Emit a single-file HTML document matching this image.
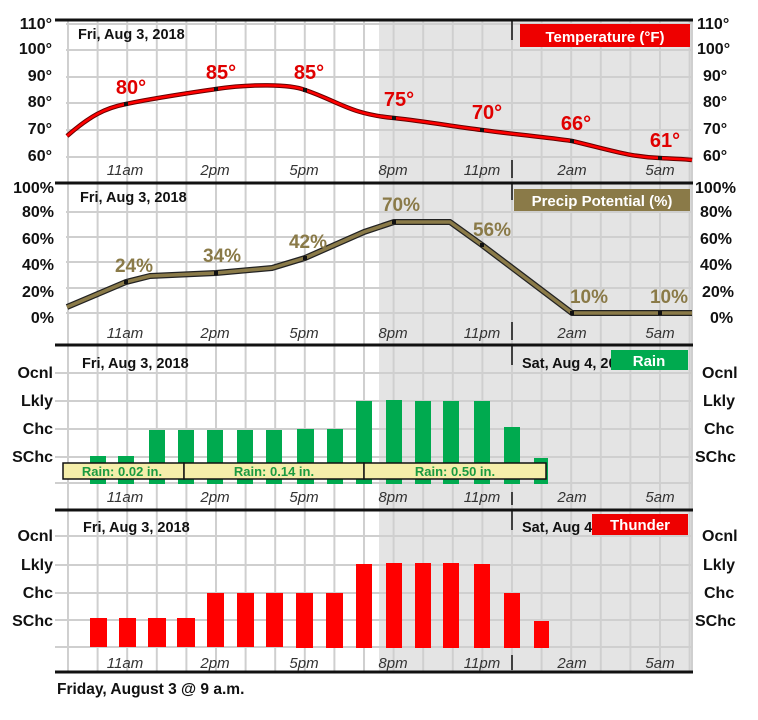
<!DOCTYPE html>
<html><head><meta charset="utf-8"><style>
html,body{margin:0;padding:0;background:#fff}
svg{display:block;font-family:"Liberation Sans",Arial,sans-serif}
.ax{font-size:16px;font-weight:bold;fill:#111}
.tm{font-size:15px;font-style:italic;fill:#333}
.dt{font-size:14.5px;font-weight:bold;fill:#111}
</style></head><body>
<svg width="758" height="720" viewBox="0 0 758 720" xmlns="http://www.w3.org/2000/svg">
<defs>
<pattern id="gv" x="67" y="0" width="29.6" height="720" patternUnits="userSpaceOnUse">
<line x1="1" y1="0" x2="1" y2="720" stroke="#cfcfcf" stroke-width="2"/>
</pattern>
</defs>
<rect x="379" y="20" width="313" height="652" fill="#e4e4e4"/>
<rect x="66" y="20" width="627" height="652" fill="url(#gv)"/>
<g stroke="#cfcfcf" stroke-width="2">
<line x1="66" y1="24" x2="692" y2="24"/><line x1="66" y1="50" x2="692" y2="50"/><line x1="66" y1="77" x2="692" y2="77"/><line x1="66" y1="103" x2="692" y2="103"/><line x1="66" y1="130" x2="692" y2="130"/><line x1="66" y1="157" x2="692" y2="157"/>
<line x1="66" y1="212" x2="692" y2="212"/><line x1="66" y1="237" x2="692" y2="237"/><line x1="66" y1="262" x2="692" y2="262"/><line x1="66" y1="288" x2="692" y2="288"/><line x1="66" y1="313" x2="692" y2="313"/>
<line x1="55" y1="373" x2="692" y2="373"/><line x1="55" y1="401" x2="692" y2="401"/><line x1="55" y1="429" x2="692" y2="429"/><line x1="55" y1="457" x2="692" y2="457"/><line x1="55" y1="483" x2="692" y2="483"/>
<line x1="55" y1="536" x2="692" y2="536"/><line x1="55" y1="565" x2="692" y2="565"/><line x1="55" y1="593" x2="692" y2="593"/><line x1="55" y1="620" x2="692" y2="620"/><line x1="55" y1="647" x2="692" y2="647"/>
<line x1="692" y1="20" x2="692" y2="672"/>
</g>
<g stroke="#111" stroke-width="3">
<line x1="55" y1="20" x2="693" y2="20"/>
<line x1="55" y1="183" x2="693" y2="183"/>
<line x1="55" y1="345" x2="693" y2="345"/>
<line x1="55" y1="510" x2="693" y2="510"/>
<line x1="55" y1="672" x2="693" y2="672"/>
</g>
<g stroke="#111" stroke-width="1.5">
<line x1="512" y1="20" x2="512" y2="40"/><line x1="512" y1="160" x2="512" y2="178"/>
<line x1="512" y1="183" x2="512" y2="200"/><line x1="512" y1="322" x2="512" y2="340"/>
<line x1="512" y1="345" x2="512" y2="365"/><line x1="512" y1="492" x2="512" y2="505"/>
<line x1="512" y1="510" x2="512" y2="530"/><line x1="512" y1="655" x2="512" y2="670"/>
</g>

<g class="ax" text-anchor="end">
<text x="52" y="29">110°</text><text x="52" y="54">100°</text><text x="52" y="81">90°</text><text x="52" y="107">80°</text><text x="52" y="134">70°</text><text x="52" y="161">60°</text>
<text x="54" y="193">100%</text><text x="54" y="217">80%</text><text x="54" y="244">60%</text><text x="54" y="270">40%</text><text x="54" y="297">20%</text><text x="54" y="323">0%</text>
<text x="53" y="378">Ocnl</text><text x="53" y="406">Lkly</text><text x="53" y="434">Chc</text><text x="53" y="462">SChc</text>
<text x="53" y="541">Ocnl</text><text x="53" y="570">Lkly</text><text x="53" y="598">Chc</text><text x="53" y="626">SChc</text>
</g>
<g class="ax" text-anchor="start">
<text x="697" y="29">110°</text><text x="697" y="54">100°</text><text x="703" y="81">90°</text><text x="703" y="107">80°</text><text x="703" y="134">70°</text><text x="703" y="161">60°</text>
<text x="695" y="193">100%</text><text x="700" y="217">80%</text><text x="700" y="244">60%</text><text x="700" y="270">40%</text><text x="702" y="297">20%</text><text x="710" y="323">0%</text>
<text x="702" y="378">Ocnl</text><text x="703" y="406">Lkly</text><text x="704" y="434">Chc</text><text x="695" y="462">SChc</text>
<text x="702" y="541">Ocnl</text><text x="703" y="570">Lkly</text><text x="704" y="598">Chc</text><text x="695" y="626">SChc</text>
</g>

<g class="tm" text-anchor="middle">
<g transform="translate(0,175)"><text x="125">11am</text><text x="215">2pm</text><text x="304">5pm</text><text x="393">8pm</text><text x="482">11pm</text><text x="572">2am</text><text x="660">5am</text></g>
<g transform="translate(0,338)"><text x="125">11am</text><text x="215">2pm</text><text x="304">5pm</text><text x="393">8pm</text><text x="482">11pm</text><text x="572">2am</text><text x="660">5am</text></g>
<g transform="translate(0,502)"><text x="125">11am</text><text x="215">2pm</text><text x="304">5pm</text><text x="393">8pm</text><text x="482">11pm</text><text x="572">2am</text><text x="660">5am</text></g>
<g transform="translate(0,668)"><text x="125">11am</text><text x="215">2pm</text><text x="304">5pm</text><text x="393">8pm</text><text x="482">11pm</text><text x="572">2am</text><text x="660">5am</text></g>
</g>

<text class="dt" x="78" y="39">Fri, Aug 3, 2018</text>
<text class="dt" x="80" y="202">Fri, Aug 3, 2018</text>
<text class="dt" x="82" y="368">Fri, Aug 3, 2018</text>
<text class="dt" x="83" y="532">Fri, Aug 3, 2018</text>
<text class="dt" x="522" y="368">Sat, Aug 4, 2018</text>
<text class="dt" x="522" y="532">Sat, Aug 4, 2018</text>

<rect x="520" y="24" width="170" height="23" fill="#ee0000"/>
<text x="605" y="42" text-anchor="middle" font-size="15" font-weight="bold" fill="#fff">Temperature  (°F)</text>
<rect x="514" y="189" width="176" height="22" fill="#8a7a48"/>
<text x="602" y="206" text-anchor="middle" font-size="15" font-weight="bold" fill="#fff">Precip  Potential  (%)</text>
<rect x="611" y="350" width="77" height="20" fill="#00aa4f"/>
<text x="649" y="366" text-anchor="middle" font-size="15" font-weight="bold" fill="#fff">Rain</text>
<rect x="592" y="514" width="96" height="21" fill="#ee0000"/>
<text x="640" y="530" text-anchor="middle" font-size="15" font-weight="bold" fill="#fff">Thunder</text>

<path d="M67,136 C90,116 105,108 126,104 C160,97 190,93 216,89 C250,84 290,84 305,90 C340,102 350,114 394,118 C430,122 450,126 482,130 C520,135 545,137 572,141 C610,150 630,157 660,158 C675,159 685,159 692,160" fill="none" stroke="#600" stroke-width="4.5"/>
<path d="M67,136 C90,116 105,108 126,104 C160,97 190,93 216,89 C250,84 290,84 305,90 C340,102 350,114 394,118 C430,122 450,126 482,130 C520,135 545,137 572,141 C610,150 630,157 660,158 C675,159 685,159 692,160" fill="none" stroke="#f00" stroke-width="2.5"/>
<g fill="#111"><rect x="124" y="102" width="4" height="4"/><rect x="214" y="87" width="4" height="4"/><rect x="303" y="88" width="4" height="4"/><rect x="392" y="116" width="4" height="4"/><rect x="480" y="128" width="4" height="4"/><rect x="570" y="139" width="4" height="4"/><rect x="658" y="156" width="4" height="4"/></g>
<g font-size="20" font-weight="bold" fill="#e00000" text-anchor="middle">
<text x="131" y="94">80°</text><text x="221" y="79">85°</text><text x="309" y="79">85°</text><text x="399" y="106">75°</text><text x="487" y="119">70°</text><text x="576" y="130">66°</text><text x="665" y="147">61°</text>
</g>

<path d="M67,307 L126,282 L150,276 L216,273 L272,268 L305,258 L364,232 L394,222 L450,222 L482,245 L572,313 L692,313" fill="none" stroke="#222" stroke-width="6" stroke-linejoin="round"/>
<path d="M67,307 L126,282 L150,276 L216,273 L272,268 L305,258 L364,232 L394,222 L450,222 L482,245 L572,313 L692,313" fill="none" stroke="#8a7a48" stroke-width="3.5" stroke-linejoin="round"/>
<g fill="#111"><rect x="124" y="280" width="4" height="4"/><rect x="214" y="271" width="4" height="4"/><rect x="303" y="256" width="4" height="4"/><rect x="392" y="220" width="4" height="4"/><rect x="480" y="243" width="4" height="4"/><rect x="570" y="311" width="4" height="4"/><rect x="658" y="311" width="4" height="4"/></g>
<g font-size="19" font-weight="bold" fill="#8a7a48" text-anchor="middle">
<text x="134" y="272">24%</text><text x="222" y="262">34%</text><text x="308" y="248">42%</text><text x="401" y="211">70%</text><text x="492" y="236">56%</text><text x="589" y="303">10%</text><text x="669" y="303">10%</text>
</g>

<g fill="#00aa4f">
<rect x="90" y="456" width="16" height="28"/><rect x="118" y="456" width="16" height="28"/>
<rect x="149" y="430" width="16" height="54"/><rect x="178" y="430" width="16" height="54"/><rect x="207" y="430" width="16" height="54"/><rect x="237" y="430" width="16" height="54"/><rect x="266" y="430" width="16" height="54"/><rect x="297" y="429" width="17" height="55"/><rect x="327" y="429" width="16" height="55"/>
<rect x="356" y="401" width="16" height="83"/><rect x="386" y="400" width="16" height="84"/><rect x="415" y="401" width="16" height="83"/><rect x="443" y="401" width="16" height="83"/><rect x="474" y="401" width="16" height="83"/>
<rect x="504" y="427" width="16" height="57"/><rect x="534" y="458" width="14" height="26"/>
</g>
<g stroke="#111" stroke-width="1.5" fill="#f5eeaa">
<rect x="63" y="463" width="121" height="16"/><rect x="184" y="463" width="180" height="16"/><rect x="364" y="463" width="182" height="16"/>
</g>
<g font-size="13" font-weight="bold" fill="#1a9a40" text-anchor="middle">
<text x="122" y="476">Rain: 0.02 in.</text><text x="274" y="476">Rain: 0.14 in.</text><text x="455" y="476">Rain: 0.50 in.</text>
</g>

<g fill="#f00">
<rect x="90" y="618" width="17" height="29"/><rect x="119" y="618" width="17" height="29"/><rect x="148" y="618" width="18" height="29"/><rect x="177" y="618" width="18" height="29"/>
<rect x="207" y="593" width="17" height="54"/><rect x="237" y="593" width="17" height="54"/><rect x="266" y="593" width="17" height="54"/><rect x="296" y="593" width="17" height="55"/><rect x="326" y="593" width="17" height="55"/>
<rect x="356" y="564" width="16" height="84"/><rect x="386" y="563" width="16" height="85"/><rect x="415" y="563" width="16" height="85"/><rect x="443" y="563" width="16" height="85"/><rect x="474" y="564" width="16" height="84"/>
<rect x="504" y="593" width="16" height="55"/><rect x="534" y="621" width="15" height="27"/>
</g>

<text x="57" y="694" font-size="15.5" font-weight="bold" fill="#111">Friday,  August  3 @ 9 a.m.</text>
</svg>
</body></html>
